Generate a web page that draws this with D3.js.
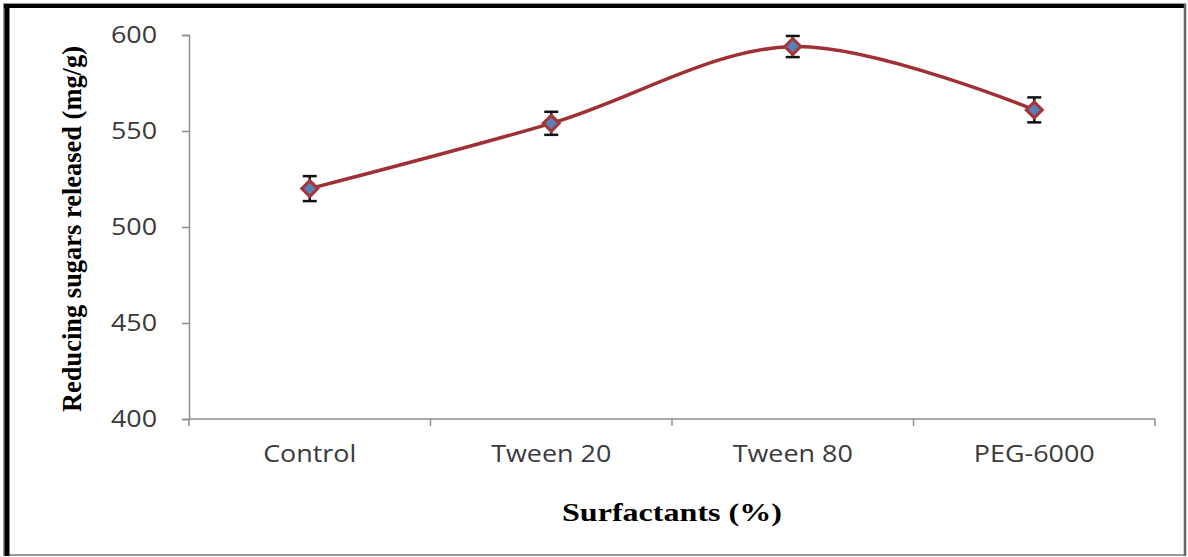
<!DOCTYPE html>
<html>
<head>
<meta charset="utf-8">
<script src="https://cdn.jsdelivr.net/npm/d3@7"></script>
<style>
	body { margin: 0; background: #fff; }
	svg { display: block; }
</style>
</head>
<body>
<div id="chart"></div>
<script>
// values
const categories = ["Control", "Tween 20", "Tween 80", "PEG-6000"];
const sugarValues = [520, 554, 594, 561];
const sugarErrors = [6.5, 6, 5.5, 6.5];
const yTicks = [400, 450, 500, 550, 600];

const width = 1188;
const height = 557;
const margin = {top: 35, right: 33, bottom: 138, left: 189};

const svg = d3.select('#chart')
	.append('svg')
	.attr('width', width)
	.attr('height', height);

// frame round the picture: heavy black top/left, thin grey right/bottom
svg.append('rect').attr('x', 4).attr('y', 4).attr('width', 1181).attr('height', 551)
	.attr('fill', 'none').attr('stroke', '#999').attr('stroke-width', 2);
svg.append('line').attr('x1', 4).attr('x2', 1185).attr('y1', 6).attr('y2', 6)
	.attr('stroke', '#000').attr('stroke-width', 4);
svg.append('line').attr('x1', 7).attr('x2', 7).attr('y1', 4).attr('y2', 556)
	.attr('stroke', '#000').attr('stroke-width', 5);
svg.append('line').attr('x1', 1185).attr('x2', 1185).attr('y1', 4).attr('y2', 556)
	.attr('stroke', '#666').attr('stroke-width', 2.5);

let x = d3.scaleBand()
	.domain(categories)
	.range([margin.left, width - margin.right]);

let y = d3.scaleLinear()
	.domain([400, 600])
	.range([height - margin.bottom, margin.top]);

const axisColor = '#8c8c8c';

// y axis
const yAxis = svg.append('g')
	.attr('transform', `translate(${margin.left},0)`)
	.call(d3.axisLeft(y).tickValues(yTicks).tickSize(7).tickPadding(25));
yAxis.select('.domain').attr('stroke', axisColor).attr('stroke-width', 1.5);
yAxis.selectAll('.tick line').attr('stroke', axisColor).attr('stroke-width', 1.5);
yAxis.selectAll('text')
	.attr('fill', '#3a3a3a')
	.style('font', '24px "Open Sans", sans-serif');

// x axis: ticks sit on the band edges, labels in the middle of each band
const xAxisY = y(400);
const xAxis = svg.append('g')
	.attr('transform', `translate(0,${xAxisY})`);
xAxis.append('line')
	.attr('x1', margin.left).attr('x2', width - margin.right)
	.attr('stroke', axisColor).attr('stroke-width', 1.5);
const edges = categories.map(c => x(c)).concat([x(categories[categories.length - 1]) + x.bandwidth()]);
xAxis.selectAll('line.tk')
	.data(edges)
	.join('line')
	.attr('class', 'tk')
	.attr('x1', d => d).attr('x2', d => d)
	.attr('y1', 0).attr('y2', 7)
	.attr('stroke', axisColor).attr('stroke-width', 1.5);
xAxis.selectAll('text')
	.data(categories)
	.join('text')
	.attr('x', d => x(d) + x.bandwidth() / 2)
	.attr('y', 43)
	.attr('text-anchor', 'middle')
	.attr('fill', '#3a3a3a')
	.style('font', '24px "Open Sans", sans-serif')
	.text(d => d);

// widen the sans labels a little, the picture is stretched sideways
svg.selectAll('g text').each(function () {
	let w = this.getComputedTextLength();
	d3.select(this).attr('textLength', w * 1.12).attr('lengthAdjust', 'spacingAndGlyphs');
});

// axis titles
svg.append('text')
	.attr('transform', `translate(81,${(margin.top + xAxisY) / 2 + 2}) rotate(-90)`)
	.attr('text-anchor', 'middle')
	.style('font', 'bold 27px "Liberation Serif", "Times New Roman", serif')
	.attr('textLength', 366)
	.attr('lengthAdjust', 'spacingAndGlyphs')
	.text('Reducing sugars released (mg/g)');

svg.append('text')
	.attr('x', 672)
	.attr('y', 521)
	.attr('text-anchor', 'middle')
	.style('font', 'bold 26px "Liberation Serif", "Times New Roman", serif')
	.attr('textLength', 220)
	.attr('lengthAdjust', 'spacingAndGlyphs')
	.text('Surfactants (%)');

// data
let points = categories.map((c, i) => ({
	cat: c, value: sugarValues[i], err: sugarErrors[i]
}));
const cx = d => x(d.cat) + x.bandwidth() / 2;

let line = d3.line()
	.x(cx)
	.y(d => y(d.value))
	.curve(d3.curveCardinal.tension(0));

svg.append('path')
	.datum(points)
	.attr('fill', 'none')
	.attr('stroke', '#9e3036')
	.attr('stroke-width', 3.5)
	.attr('d', line);

// error bars
const errG = svg.append('g')
	.attr('stroke', '#111')
	.attr('stroke-width', 2.5);
errG.selectAll('line.v')
	.data(points)
	.join('line')
	.attr('class', 'v')
	.attr('x1', cx).attr('x2', cx)
	.attr('y1', d => y(d.value + d.err))
	.attr('y2', d => y(d.value - d.err));
errG.selectAll('line.top')
	.data(points)
	.join('line')
	.attr('class', 'top')
	.attr('x1', d => cx(d) - 7).attr('x2', d => cx(d) + 7)
	.attr('y1', d => y(d.value + d.err)).attr('y2', d => y(d.value + d.err));
errG.selectAll('line.bot')
	.data(points)
	.join('line')
	.attr('class', 'bot')
	.attr('x1', d => cx(d) - 7).attr('x2', d => cx(d) + 7)
	.attr('y1', d => y(d.value - d.err)).attr('y2', d => y(d.value - d.err));

// diamond markers
svg.append('g')
	.selectAll('path')
	.data(points)
	.join('path')
	.attr('transform', d => `translate(${cx(d)},${y(d.value)})`)
	.attr('d', 'M0,-8L8,0L0,8L-8,0Z')
	.attr('fill', '#5a7fb5')
	.attr('stroke', '#a3363a')
	.attr('stroke-width', 3);
</script>
</body>
</html>
